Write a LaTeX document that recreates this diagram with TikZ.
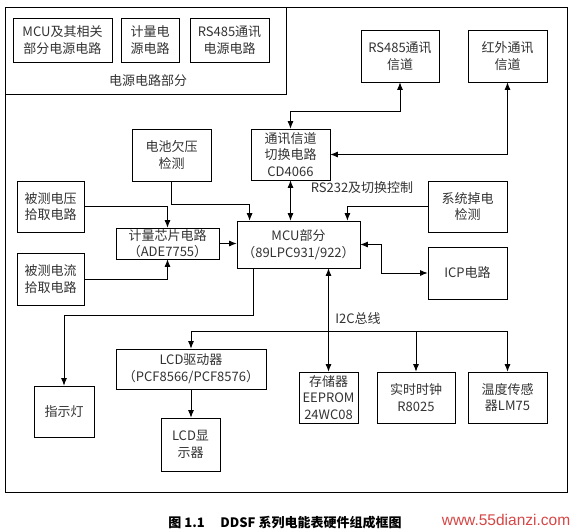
\documentclass[tikz,border=0pt]{standalone}
\usepackage{fontspec}
\setmainfont{Noto Sans CJK SC}
\newfontfamily\wmfont{Liberation Sans}
\usetikzlibrary{arrows.meta,calc}
\newcommand\boxfont{\fontsize{13}{16.5}\selectfont}
\begin{document}
\begin{tikzpicture}[x=1pt,y=-1pt,
  frame/.style={draw, line width=0.8pt},
  box/.style={draw, line width=0.8pt, align=center, inner sep=0pt, font=\boxfont, text=black!80},
  lbl/.style={font=\boxfont, text=black!80, inner sep=0pt},
  arr/.style={line width=0.8pt, -{Latex[length=7.5pt,width=6pt]}},
  darr/.style={line width=0.8pt, {Latex[length=7.5pt,width=6pt]}-{Latex[length=7.5pt,width=6pt]}}]
\useasboundingbox[fill=white] (0,0) rectangle (575,531);
% frames
\draw[frame] (5,7) rectangle (567,492);
\draw[frame] (5,7) rectangle (286,94);
% power boxes
\node[box, minimum width=99pt, minimum height=44pt] (p1) at (62.5,40) {MCU及其相关\\部分电源电路};
\node[box, minimum width=58pt, minimum height=44pt] (p2) at (150,40) {计量电\\源电路};
\node[box, minimum width=79pt, minimum height=44pt] (p3) at (229.5,40) {RS485通讯\\电源电路};
\node[lbl] (plbl) at (148,81) {电源电路部分};
% channels
\node[box, minimum width=78pt, minimum height=52pt] (rs485) at (400,56) {RS485通讯\\信道};
\node[box, minimum width=79pt, minimum height=52pt] (ir) at (507.5,56) {红外通讯\\信道};
\node[box, minimum width=79pt, minimum height=51pt] (sw) at (290.5,154.5) {通讯信道\\切换电路\\CD4066};
\node[box, minimum width=79pt, minimum height=52pt] (bat) at (171.5,155) {电池欠压\\检测};
\node[box, minimum width=67pt, minimum height=51pt] (volt) at (50.5,206.5) {被测电压\\拾取电路};
\node[box, minimum width=67pt, minimum height=52pt] (curr) at (50.5,279) {被测电流\\拾取电路};
\node[box, minimum width=103pt, minimum height=31pt] (chip) at (167.5,243.5) {计量芯片电路\\（ADE7755）};
\node[box, minimum width=123pt, minimum height=47pt] (mcu) at (298.5,244.5) {MCU部分\\（89LPC931/922）};
\node[box, minimum width=79pt, minimum height=51pt] (pd) at (467.5,206.5) {系统掉电\\检测};
\node[box, minimum width=79pt, minimum height=52pt] (icp) at (467.5,273) {ICP电路};
\node[box, minimum width=60pt, minimum height=51pt] (led) at (64,411.5) {指示灯};
\node[box, minimum width=150pt, minimum height=40pt] (lcdd) at (191,369) {LCD驱动器\\（PCF8566/PCF8576）};
\node[box, minimum width=59pt, minimum height=53pt] (lcd) at (190.5,444.5) {LCD显\\示器};
\node[box, minimum width=59pt, minimum height=51pt] (mem) at (328.5,397.5) {存储器\\EEPROM\\24WC08};
\node[box, minimum width=78pt, minimum height=51pt] (rtc) at (416,397.5) {实时时钟\\R8025};
\node[box, minimum width=79pt, minimum height=51pt] (temp) at (507.5,397.5) {温度传感\\器LM75};
% labels
\node[lbl] (l232) at (362,188) {RS232及切换控制};
\node[lbl] (li2c) at (358,319) {I2C总线};
% connectors
\coordinate (c485) at (400,111);
\draw[darr] (rs485.south) -- (c485) -| (sw.north);
\draw[darr] (ir.south) |- (sw.east);
\draw[darr] (sw.south) -- (sw.south |- mcu.north);
\coordinate (cbat) at ($(mcu.north west)+(13,0)$);
\draw[arr] (bat.south) |- ($(cbat)+(0,-16)$) -- (cbat);
\draw[arr] (volt.east) -| (chip.north);
\draw[arr] (curr.east) -| (chip.south);
\draw[arr] (chip.east) -- (chip.east -| mcu.west);
\coordinate (cpd) at ($(mcu.north east)+(-13,0)$);
\draw[arr] (pd.west) -| (cpd);
\coordinate (cicp) at (381,244.5);
\draw[darr] (mcu.east) -- (cicp) |- (icp.west);
\coordinate (cled) at ($(mcu.south west)+(17,0)$);
\draw[arr] (cled) -- ++(0,47) -| (led.north);
\coordinate (bus) at (0,331);
\draw[arr] (temp.north |- bus) -| (lcdd.north);
\draw[arr] (temp.north |- bus) -- (temp.north);
\draw[arr] (rtc.north |- bus) -- (rtc.north);
\draw[arr] (mem.north |- bus) -- (mem.north);
\draw[arr] (mem.north |- bus) -- (mem.north |- mcu.south);
\draw[arr] (lcdd.south) -- (lcdd.south |- lcd.north);
% caption
\node[font=\fontsize{13}{15}\selectfont\bfseries, inner sep=0pt] (cap) at (285,523) {图 1.1\hspace{1.2em}DDSF 系列电能表硬件组成框图};
\node[font=\wmfont\fontsize{15.5}{17}\selectfont, text={rgb,255:red,215;green,70;blue,70}, inner sep=0pt] (wm) at (506,520) {www.55dianzi.com};
\end{tikzpicture}
\end{document}
